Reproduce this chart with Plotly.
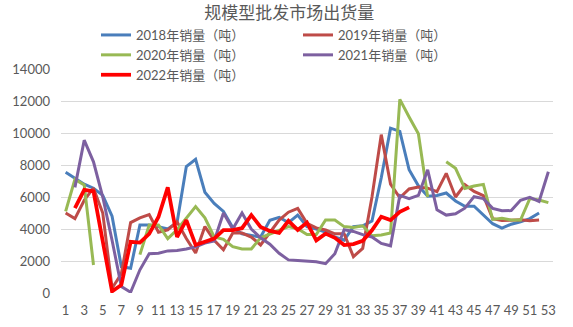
import plotly.graph_objects as go

# Weekly shipment volume (tonnes) of large wholesale markets, weeks 1-53
weeks = list(range(1, 54))

sales_2018 = [7550, 7200, 6800, 6550, 6100, 4800, 1650, 1550, 4250, 4250,
              4150, 4000, 4400, 7900, 8350, 6300, 5600, 5100, 4100, 3700,
              3600, 3500, 4550, 4730, 4400, 4870, 4150, 4000, 3800, 3500,
              3300, 4150, 4200, 4500, 7200, 10300, 10100, 7700, 6700, 6050,
              6100, 6250, 5750, 5420, 5420, 4870, 4330, 4050, 4300, 4450,
              4650, 5000, None]

sales_2019 = [5000, 4650, 5800, 6550, 5000, 300, 1200, 4400, 4700, 4900,
              3800, 3950, 4450, 3400, 2500, 4150, 3300, 2700, 3750, 3750,
              3500, 3000, 3780, 4560, 5050, 5290, 4350, 4070, 3940, 3700,
              3700, 2270, 2790, 6000, 9900, 6800, 5950, 6500, 6620, 6550,
              6330, 7480, 6000, 6770, 6350, 6080, 4650, 4530, 4550, 4580,
              4520, 4560, None]

sales_2020 = [5100, 7100, 6750, 1750, None, None, None, None, 2400, 4250,
              4250, 3400, 3950, 4700, 5400, 4700, 3500, 3350, 2900, 2750,
              2750, 3450, 3680, 3880, 4150, 4020, 3650, 3650, 4560, 4560,
              4150, 4100, 4200, 3580, 3620, 3750, 12100, 11000, 9950, 6000,
              None, 8200, 7790, 6540, 6690, 6790, 4600, 4670, 4560, 4560,
              5900, 5810, 5650]

sales_2021 = [None, 6600, 9550, 8200, 6000, 3300, 400, 50, 1450, 2450,
              2480, 2630, 2660, 2750, 2880, 3120, 3250, 5000, 4000, 5000,
              4000, 3450, 3050, 2480, 2070, 2030, 2000, 1950, 1830, 2450,
              3950, 3850, 3650, 3500, 3100, 2950, 6100, 5900, 6100, 7700,
              5200, 4870, 4950, 5300, 6020, 5900, 5290, 5140, 5150, 5800,
              5980, 5720, 7580]

sales_2022 = [None, 5300, 6450, 6350, 3250, 100, 500, 3200, 3150, 3700,
              4750, 6600, 3500, 4550, 3000, 3200, 3400, 3930, 3930, 4050,
              4870, 4130, 3880, 3760, 4510, 3940, 4400, 3290, 3710, 3450,
              3000, 3060, 3260, 3920, 4770, 4560, 5070, 5350] + [None] * 15

series = [
    ("2018年销量（吨）", sales_2018, "#4A7EBB", 3),
    ("2019年销量（吨）", sales_2019, "#BE4B48", 3),
    ("2020年销量（吨）", sales_2020, "#98B954", 3),
    ("2021年销量（吨）", sales_2021, "#7D60A0", 3),
    ("2022年销量（吨）", sales_2022, "#FF0000", 3.75),
]

FONT = "Lato, 'Noto Sans CJK SC', sans-serif"
GREY = "#595959"

fig = go.Figure()
for name, values, color, width in series:
    fig.add_trace(go.Scatter(
        x=weeks, y=values, name=name, mode="lines",
        line=dict(color=color, width=width),
        connectgaps=False,
    ))

fig.update_layout(
    width=573, height=327,
    margin=dict(l=61, r=20, t=69, b=34, autoexpand=False),
    paper_bgcolor="white", plot_bgcolor="white",
    font=dict(family=FONT, color=GREY, size=13),
    title=dict(
        text="规模型批发市场出货量",
        font=dict(family="'Noto Sans CJK SC', sans-serif", size=17, color=GREY),
        x=0.505, xanchor="center", xref="container",
        y=1 - 13 / 327, yanchor="middle", yref="container",
    ),
    legend=dict(
        orientation="h",
        xref="container", yref="container",
        x=96 / 573, xanchor="left",
        y=1 - 20 / 327, yanchor="top",
        entrywidth=157,
        font=dict(family=FONT, size=13, color=GREY),
        bgcolor="rgba(0,0,0,0)",
        tracegroupgap=0,
    ),
    showlegend=True,
)

fig.update_xaxes(
    range=[0.5, 53.5], tickmode="linear", tick0=1, dtick=2,
    showgrid=False, zeroline=False, showline=False, ticks="",
    tickfont=dict(family=FONT, size=13, color=GREY),
    ticklabelstandoff=8,
)
fig.update_yaxes(
    range=[0, 14000], tickmode="linear", tick0=0, dtick=2000,
    tickformat="d",
    showgrid=True, gridcolor="#D9D9D9", gridwidth=1,
    zeroline=False, showline=False, ticks="",
    tickfont=dict(family=FONT, size=13, color=GREY),
    ticklabelstandoff=10,
)

fig.write_html("out.html")
